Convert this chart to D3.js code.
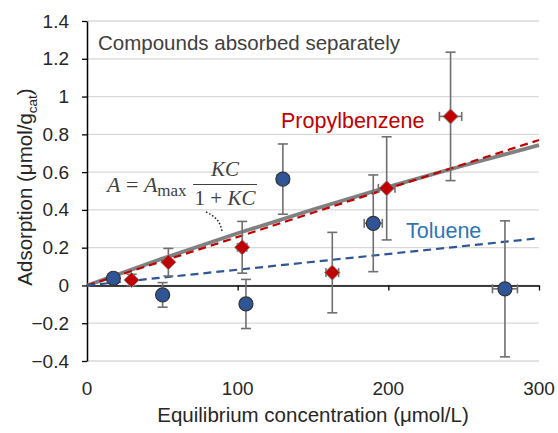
<!DOCTYPE html>
<html>
<head>
<meta charset="utf-8">
<script src="https://cdn.jsdelivr.net/npm/d3@7"></script>
<style>
  body { margin: 0; background: #fff; }
  svg { font-family: 'Liberation Sans', Arial, sans-serif; }
</style>
</head>
<body>
<svg id="chart"></svg>
<script>
// data
const yTicks = [-0.4, -0.2, 0, 0.2, 0.4, 0.6, 0.8, 1, 1.2, 1.4];
const xTicks = [0, 100, 200, 300];

const tolueneC = [17.5, 50.2, 105.5, 130, 190, 277.4];
const tolueneA = [0.038, -0.05, -0.098, 0.563, 0.329, -0.018];
const tolueneErrA = [0.02, 0.065, 0.13, 0.186, 0.256, 0.36];
const tolueneErrC = [0.5, 1.5, 3.2, 3.9, 6, 8.3];

const propylC = [29.6, 54, 103, 162.8, 198.9, 241.3];
const propylA = [0.029, 0.123, 0.202, 0.068, 0.514, 0.895];
const propylErrA = [0.03, 0.073, 0.137, 0.213, 0.273, 0.34];
const propylErrC = [0.9, 1.6, 3.1, 4.2, 5.5, 7.4];

// fitted curves
const langmuirC = [0, 50, 100, 150, 200, 250, 300];
const langmuirA = [0, 0.142, 0.276, 0.402, 0.522, 0.635, 0.743];
const propylFitC = [0, 300];
const propylFitA = [0, 0.77];
const tolueneFitC = [0, 300];
const tolueneFitA = [0, 0.25];

const fullWidth = 558;
const fullHeight = 433;
const margin = { top: 21, right: 19, bottom: 72, left: 87 };

const x = d3.scaleLinear()
    .domain([0, 300])
    .range([margin.left, fullWidth - margin.right]);

const y = d3.scaleLinear()
    .domain([-0.4, 1.4])
    .range([fullHeight - margin.bottom, margin.top]);

const svg = d3.select('#chart')
    .attr('width', fullWidth)
    .attr('height', fullHeight);

const red = '#C00000';
const blue = '#2F5597';
const textColor = '#262626';

// gridlines
svg.append('g')
  .selectAll('line')
  .data(yTicks)
  .join('line')
    .attr('x1', x(0))
    .attr('x2', x(300))
    .attr('y1', d => y(d))
    .attr('y2', d => y(d))
    .attr('stroke', '#d9d9d9')
    .attr('stroke-width', 1.3);

// x axis on zero line
const xAxis = svg.append('g')
    .attr('transform', `translate(0, ${y(0)})`)
    .call(d3.axisBottom(x).tickValues(xTicks.slice(1)).tickSize(5).tickSizeOuter(0).tickFormat(''));
xAxis.select('.domain').attr('stroke', '#000').attr('stroke-width', 1.5);
xAxis.selectAll('.tick line').attr('stroke', '#000').attr('stroke-width', 1.3);

// x tick labels (drawn at the bottom)
svg.append('g')
  .selectAll('text')
  .data(xTicks)
  .join('text')
    .attr('x', d => x(d))
    .attr('y', 395)
    .attr('text-anchor', 'middle')
    .attr('font-size', 19)
    .attr('fill', textColor)
    .text(d => d);

// y axis
const yAxis = svg.append('g')
    .attr('transform', `translate(${x(0)}, 0)`)
    .call(d3.axisLeft(y).tickValues(yTicks).tickSize(5).tickSizeOuter(0)
      .tickFormat(d => d3.format('')(+d.toFixed(1))));
yAxis.select('.domain').attr('stroke', '#000').attr('stroke-width', 1.5);
yAxis.selectAll('.tick line').attr('stroke', '#000').attr('stroke-width', 1.3);
yAxis.selectAll('.tick text')
    .attr('x', -18)
    .attr('font-size', 19)
    .attr('font-family', "'Liberation Sans', Arial, sans-serif")
    .attr('fill', textColor);

// axis titles
svg.append('text')
    .attr('x', (x(0) + x(300)) / 2)
    .attr('y', 422)
    .attr('text-anchor', 'middle')
    .attr('font-size', 20.5)
    .attr('fill', textColor)
    .text('Equilibrium concentration (μmol/L)');

const yTitle = svg.append('text')
    .attr('transform', `translate(32, ${(y(-0.4) + y(1.4)) / 2 - 4}) rotate(-90)`)
    .attr('text-anchor', 'middle')
    .attr('font-size', 20.5)
    .attr('fill', textColor);
yTitle.append('tspan').text('Adsorption (μmol/g');
yTitle.append('tspan').attr('font-size', 13.5).attr('dy', 5).text('cat');
yTitle.append('tspan').attr('dy', -5).text(')');

// fit lines
const line = d3.line()
    .x(d => x(d[0]))
    .y(d => y(d[1]));

svg.append('path')
    .datum(langmuirC.map((c, i) => [c, langmuirA[i]]))
    .attr('fill', 'none')
    .attr('stroke', '#808080')
    .attr('stroke-width', 3.8)
    .attr('d', line);

svg.append('path')
    .datum(propylFitC.map((c, i) => [c, propylFitA[i]]))
    .attr('fill', 'none')
    .attr('stroke', red)
    .attr('stroke-width', 2.2)
    .attr('stroke-dasharray', '8,5')
    .attr('d', line);

svg.append('path')
    .datum(tolueneFitC.map((c, i) => [c, tolueneFitA[i]]))
    .attr('fill', 'none')
    .attr('stroke', blue)
    .attr('stroke-width', 2.2)
    .attr('stroke-dasharray', '8,5')
    .attr('d', line);

// error bars
const errColor = '#6f6f6f';
function errorBars(cs, as, ea, ec) {
  const g = svg.append('g')
      .attr('stroke', errColor)
      .attr('stroke-width', 1.6)
      .attr('fill', 'none');
  const data = cs.map((c, i) => ({ c, a: as[i], ea: ea[i], ec: ec[i] }));
  const eb = g.selectAll('g').data(data).join('g');
  eb.append('line')
      .attr('x1', d => x(d.c)).attr('x2', d => x(d.c))
      .attr('y1', d => y(d.a - d.ea)).attr('y2', d => y(d.a + d.ea));
  eb.append('line')
      .attr('x1', d => x(d.c) - 5).attr('x2', d => x(d.c) + 5)
      .attr('y1', d => y(d.a - d.ea)).attr('y2', d => y(d.a - d.ea));
  eb.append('line')
      .attr('x1', d => x(d.c) - 5).attr('x2', d => x(d.c) + 5)
      .attr('y1', d => y(d.a + d.ea)).attr('y2', d => y(d.a + d.ea));
  eb.append('line')
      .attr('x1', d => x(d.c - d.ec)).attr('x2', d => x(d.c + d.ec))
      .attr('y1', d => y(d.a)).attr('y2', d => y(d.a));
  eb.append('line')
      .attr('x1', d => x(d.c - d.ec)).attr('x2', d => x(d.c - d.ec))
      .attr('y1', d => y(d.a) - 4.5).attr('y2', d => y(d.a) + 4.5);
  eb.append('line')
      .attr('x1', d => x(d.c + d.ec)).attr('x2', d => x(d.c + d.ec))
      .attr('y1', d => y(d.a) - 4.5).attr('y2', d => y(d.a) + 4.5);
}
errorBars(tolueneC, tolueneA, tolueneErrA, tolueneErrC);
errorBars(propylC, propylA, propylErrA, propylErrC);

// markers
svg.append('g')
  .selectAll('circle')
  .data(tolueneC.map((c, i) => [c, tolueneA[i]]))
  .join('circle')
    .attr('cx', d => x(d[0]))
    .attr('cy', d => y(d[1]))
    .attr('r', 7)
    .attr('fill', blue)
    .attr('stroke', '#333')
    .attr('stroke-width', 1.2);

svg.append('g')
  .selectAll('path')
  .data(propylC.map((c, i) => [c, propylA[i]]))
  .join('path')
    .attr('transform', d => `translate(${x(d[0])}, ${y(d[1])})`)
    .attr('d', 'M0,-7.5L7.5,0L0,7.5L-7.5,0Z')
    .attr('fill', red)
    .attr('stroke', '#7f7f7f')
    .attr('stroke-width', 1);

// labels
svg.append('text')
    .attr('x', 98)
    .attr('y', 50)
    .attr('font-size', 20.5)
    .attr('fill', '#404040')
    .text('Compounds absorbed separately');

svg.append('text')
    .attr('x', 281)
    .attr('y', 128)
    .attr('font-size', 21.5)
    .attr('fill', red)
    .text('Propylbenzene');

svg.append('text')
    .attr('x', 406)
    .attr('y', 238)
    .attr('font-size', 21.5)
    .attr('fill', '#2E75B6')
    .text('Toluene');

// Langmuir equation annotation
const eq = svg.append('g')
    .attr('font-family', "'Liberation Serif', 'Times New Roman', serif")
    .attr('fill', '#404040');

const eqLeft = eq.append('text')
    .attr('x', 107)
    .attr('y', 192)
    .attr('font-size', 22);
eqLeft.append('tspan').attr('font-style', 'italic').text('A');
eqLeft.append('tspan').text(' = ');
eqLeft.append('tspan').attr('font-style', 'italic').text('A');
eqLeft.append('tspan').attr('font-size', 17).attr('dy', 4).text('max');

eq.append('line')
    .attr('x1', 193).attr('x2', 257)
    .attr('y1', 184.5).attr('y2', 184.5)
    .attr('stroke', '#404040')
    .attr('stroke-width', 1.2);

eq.append('text')
    .attr('x', 225)
    .attr('y', 176)
    .attr('text-anchor', 'middle')
    .attr('font-size', 21)
    .attr('font-style', 'italic')
    .text('KC');

const den = eq.append('text')
    .attr('x', 225)
    .attr('y', 205)
    .attr('text-anchor', 'middle')
    .attr('font-size', 21);
den.append('tspan').text('1 + ');
den.append('tspan').attr('font-style', 'italic').text('KC');

svg.append('path')
    .attr('d', 'M206,212 C214,216 220,220 222,231')
    .attr('fill', 'none')
    .attr('stroke', '#262626')
    .attr('stroke-width', 1.5)
    .attr('stroke-dasharray', '1.5,2');
</script>
</body>
</html>
